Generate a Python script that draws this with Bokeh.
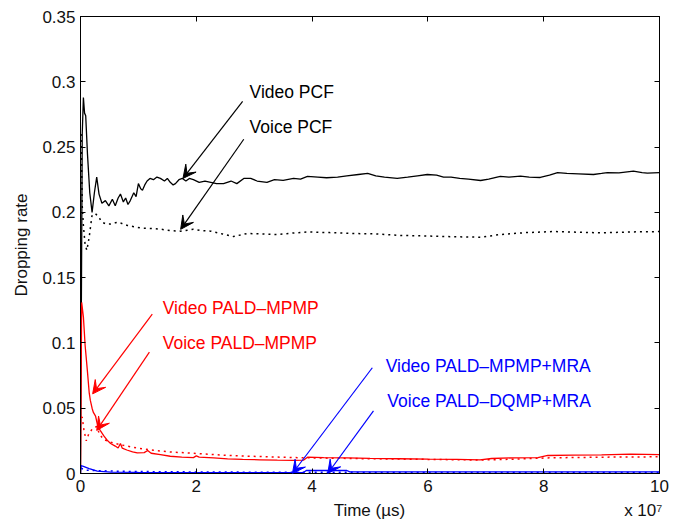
from bokeh.plotting import figure
from bokeh.models import Range1d, LinearAxis, FixedTicker, Label, Arrow, VeeHead
from bokeh.embed import file_html
from bokeh.resources import INLINE

# ---------------- data (time in units of 1e7 microseconds) ----------------
video_pcf_x = [0.0, 0.03, 0.05, 0.07, 0.09, 0.12, 0.16, 0.2, 0.24, 0.28, 0.32, 0.37, 0.43, 0.49,
               0.55, 0.6, 0.65, 0.69, 0.74, 0.78, 0.82, 0.86, 0.92, 0.96, 1.0, 1.04, 1.07, 1.11,
               1.15, 1.2, 1.26, 1.32, 1.38, 1.45, 1.5, 1.55, 1.6, 1.64, 1.7, 1.76, 1.82, 1.88,
               1.95, 2.05, 2.15, 2.25, 2.35, 2.47, 2.6, 2.7, 2.82, 2.94, 3.05, 3.22, 3.35, 3.5,
               3.68, 3.8, 3.92, 4.1, 4.25, 4.44, 4.6, 4.8, 4.96, 5.1, 5.25, 5.47, 5.65, 5.82,
               5.99, 6.15, 6.27, 6.4, 6.55, 6.7, 6.91, 7.05, 7.25, 7.4, 7.6, 7.75, 7.94, 8.1,
               8.24, 8.4, 8.6, 8.86, 9.0, 9.1, 9.3, 9.55, 9.7, 9.79, 10.0]
video_pcf_y = [0.0, 0.26, 0.288, 0.276, 0.274, 0.245, 0.215, 0.2, 0.215, 0.227, 0.214, 0.207, 0.209,
               0.205, 0.21, 0.205, 0.211, 0.214, 0.208, 0.211, 0.206, 0.209, 0.215, 0.212, 0.222,
               0.218, 0.217, 0.221, 0.224, 0.226, 0.225, 0.227, 0.226, 0.224, 0.226, 0.223, 0.221,
               0.222, 0.225, 0.226, 0.224, 0.226, 0.225, 0.223, 0.224, 0.223, 0.222, 0.222, 0.224,
               0.222, 0.226, 0.226, 0.224, 0.223, 0.225, 0.2245, 0.226, 0.2255, 0.2275, 0.227,
               0.2265, 0.227, 0.228, 0.229, 0.2298, 0.228, 0.227, 0.226, 0.227, 0.228, 0.229,
               0.2285, 0.227, 0.227, 0.226, 0.2255, 0.2244, 0.2255, 0.2275, 0.227, 0.2277, 0.227,
               0.2267, 0.2285, 0.2305, 0.2298, 0.2295, 0.229, 0.2298, 0.2305, 0.2302, 0.2315,
               0.2305, 0.23, 0.2305]

voice_pcf_x = [0.01, 0.02, 0.03, 0.05, 0.08, 0.11, 0.15, 0.2, 0.26, 0.32, 0.37, 0.45, 0.52, 0.6,
               0.66, 0.74, 0.81, 0.92, 1.04, 1.15, 1.26, 1.4, 1.55, 1.73, 1.95, 2.1, 2.25, 2.45,
               2.64, 2.88, 3.1, 3.4, 3.68, 3.92, 4.3, 4.7, 5.1, 5.53, 5.9, 6.27, 6.6, 6.91, 7.25,
               7.7, 8.17, 8.6, 8.98, 9.5, 10.0]
voice_pcf_y = [0.26, 0.235, 0.205, 0.19, 0.175, 0.171, 0.181, 0.198, 0.199, 0.196, 0.1925, 0.191,
               0.191, 0.192, 0.1925, 0.191, 0.19, 0.189, 0.188, 0.1878, 0.1876, 0.187, 0.186,
               0.1856, 0.187, 0.186, 0.1856, 0.1835, 0.1815, 0.1838, 0.1835, 0.183, 0.1842, 0.185,
               0.1845, 0.1838, 0.1835, 0.1823, 0.182, 0.1815, 0.1812, 0.181, 0.183, 0.1845, 0.1853,
               0.1848, 0.1843, 0.185, 0.1853]

video_mpmp_x = [0.0, 0.02, 0.05, 0.08, 0.12, 0.15, 0.17, 0.2, 0.22, 0.26, 0.3, 0.34, 0.4, 0.47,
                0.52, 0.6, 0.65, 0.69, 0.72, 0.8, 0.9, 0.98, 1.1, 1.16, 1.22, 1.38, 1.55, 1.75,
                1.95, 2.0, 2.05, 2.3, 2.54, 2.8, 3.1, 3.4, 3.68, 3.85, 3.92, 4.2, 4.6, 5.0, 5.5,
                6.0, 6.5, 6.9, 7.1, 7.5, 7.9, 8.07, 8.5, 9.0, 9.5, 10.0]
video_mpmp_y = [0.0, 0.131, 0.12, 0.098, 0.078, 0.062, 0.056, 0.05, 0.047, 0.044, 0.036, 0.033,
                0.029, 0.025, 0.023, 0.021, 0.0195, 0.023, 0.0195, 0.018, 0.0165, 0.0158, 0.016,
                0.0176, 0.0155, 0.0145, 0.0132, 0.0125, 0.0122, 0.0135, 0.0125, 0.012, 0.0112,
                0.0108, 0.0105, 0.0102, 0.01, 0.0102, 0.0125, 0.0122, 0.012, 0.0116, 0.0113,
                0.011, 0.0108, 0.0105, 0.0115, 0.012, 0.0122, 0.0138, 0.014, 0.0142, 0.0148, 0.0145]

voice_mpmp_x = [0.01, 0.03, 0.06, 0.1, 0.14, 0.2, 0.28, 0.33, 0.4, 0.52, 0.69, 0.98, 1.26, 1.55,
                1.95, 2.54, 3.1, 3.68, 4.2, 5.0, 6.0, 6.9, 7.5, 8.1, 9.0, 10.0]
voice_mpmp_y = [0.043, 0.043, 0.033, 0.025, 0.03, 0.034, 0.036, 0.03, 0.026, 0.024, 0.022, 0.0195,
                0.0178, 0.0165, 0.0155, 0.0138, 0.013, 0.0122, 0.0118, 0.0113, 0.0108, 0.0103,
                0.011, 0.012, 0.0125, 0.0128]

video_mra_x = [0.0, 0.01, 0.05, 0.15, 0.29, 0.52, 1.0, 2.0, 3.0, 3.85, 3.9, 4.6, 4.65, 6.0, 8.0, 10.0]
video_mra_y = [0.0, 0.006, 0.0055, 0.0038, 0.0018, 0.001, 0.0008, 0.0007, 0.0007, 0.0007, 0.0023,
               0.0023, 0.0012, 0.0012, 0.0013, 0.0013]

voice_mra_x = [0.01, 0.1, 0.3, 0.6, 1.0, 2.0, 3.0, 4.0, 6.0, 8.0, 10.0]
voice_mra_y = [0.004, 0.0025, 0.0022, 0.0018, 0.0015, 0.0012, 0.001, 0.0009, 0.0008, 0.0008, 0.0008]

x_ticks = [0, 2, 4, 6, 8, 10]
y_ticks = [0, 0.05, 0.1, 0.15, 0.2, 0.25, 0.3, 0.35]
y_tick_labels = ["0", "0.05", "0.1", "0.15", "0.2", "0.25", "0.3", "0.35"]
x_title = "Time (\u00b5s)"
x_scale_note = "x 10\u2077"
y_title = "Dropping rate"

# annotations: (text, colour, text x, text y, arrow start x, start y, arrow end x, end y)
notes = [
    ("Video PCF", "#000000", 2.92, 0.292, 2.80, 0.285, 1.77, 0.226),
    ("Voice PCF", "#000000", 2.92, 0.265, 2.82, 0.256, 1.73, 0.187),
    ("Video PALD\u2013MPMP", "#ff0000", 1.42, 0.1264, 1.24, 0.122, 0.21, 0.061),
    ("Voice PALD\u2013MPMP", "#ff0000", 1.42, 0.0996, 1.19, 0.093, 0.28, 0.033),
    ("Video PALD\u2013MPMP+MRA", "#0000ff", 5.27, 0.082, 5.04, 0.081, 3.66, 0.0),
    ("Voice PALD\u2013DQMP+MRA", "#0000ff", 5.30, 0.0559, 5.06, 0.048, 4.27, 0.0),
]
# positions (data x) of the texts under the tick labels
x_title_pos = 4.99
x_note_pos = 9.72

FONT = "Liberation Sans"
FS = "17px"
FS_NOTE = "17.5px"
TXT = "#111111"

p = figure(width=686, height=527, output_backend="svg", toolbar_location=None,
           x_range=Range1d(0, 10), y_range=Range1d(0, 0.35),
           min_border_left=80, min_border_right=27, min_border_top=16, min_border_bottom=54,
           y_axis_label=y_title)
p.grid.visible = False
p.outline_line_color = "black"
p.outline_line_width = 1
p.background_fill_color = "white"
p.border_fill_color = "white"

for ax in (p.xaxis[0], p.yaxis[0]):
    ax.major_tick_in = 5
    ax.major_tick_out = 0
    ax.minor_tick_in = 0
    ax.minor_tick_out = 0
    ax.axis_line_color = "black"
    ax.major_tick_line_color = "black"
    ax.major_label_text_font = FONT
    ax.major_label_text_font_size = FS
    ax.major_label_text_color = TXT
    ax.axis_label_text_font = FONT
    ax.axis_label_text_font_size = FS
    ax.axis_label_text_font_style = "normal"
    ax.axis_label_text_color = TXT

p.xaxis[0].ticker = FixedTicker(ticks=x_ticks)
p.xaxis[0].major_label_standoff = 6
p.yaxis[0].ticker = FixedTicker(ticks=y_ticks)
p.yaxis[0].major_label_overrides = {t: s for t, s in zip(y_ticks, y_tick_labels)}
p.yaxis[0].major_label_standoff = 5
p.yaxis[0].axis_label_standoff = 8

# second row under the x axis: axis title and the x 10^7 factor
xnote = LinearAxis(ticker=FixedTicker(ticks=[x_title_pos, x_note_pos]),
                   major_label_overrides={x_title_pos: x_title, x_note_pos: x_scale_note},
                   axis_line_color=None, major_tick_line_color=None, minor_tick_line_color=None,
                   major_tick_in=0, major_tick_out=0, minor_tick_in=0, minor_tick_out=0,
                   major_label_standoff=6, major_label_text_font=FONT,
                   major_label_text_font_size=FS, major_label_text_color=TXT)
p.add_layout(xnote, "below")

# box ticks on the right and top
right = LinearAxis(ticker=FixedTicker(ticks=y_ticks),
                   major_label_overrides={t: "" for t in y_ticks},
                   major_label_text_color=None,
                   major_tick_in=5, major_tick_out=0, minor_tick_in=0, minor_tick_out=0,
                   major_label_standoff=0)
top = LinearAxis(ticker=FixedTicker(ticks=x_ticks),
                 major_label_overrides={t: "" for t in x_ticks},
                 major_label_text_color=None,
                 major_tick_in=5, major_tick_out=0, minor_tick_in=0, minor_tick_out=0,
                 major_label_standoff=0)
p.add_layout(right, "right")
p.add_layout(top, "above")

# curves
p.line(video_pcf_x, video_pcf_y, line_color="black", line_width=1.3)
p.line(voice_pcf_x, voice_pcf_y, line_color="black", line_width=1.5, line_dash="2 4")
p.line(video_mpmp_x, video_mpmp_y, line_color="#ff0000", line_width=1.3)
p.line(voice_mpmp_x, voice_mpmp_y, line_color="#ff0000", line_width=1.5, line_dash="2 4")
p.line(video_mra_x, video_mra_y, line_color="#0000ff", line_width=1.3)
p.line(voice_mra_x, voice_mra_y, line_color="#0000ff", line_width=1.5, line_dash="2 4")

for text, col, tx, ty, sx, sy, ex, ey in notes:
    p.add_layout(Label(x=tx, y=ty, text=text, text_color=col, text_font=FONT,
                       text_font_size=FS_NOTE, text_baseline="middle", text_align="left"))
    p.add_layout(Arrow(x_start=sx, y_start=sy, x_end=ex, y_end=ey, line_color=col,
                       line_width=1.2,
                       end=VeeHead(size=13, line_color=col, fill_color=col, line_width=1)))

open("out.html", "w").write(file_html(p, INLINE))
